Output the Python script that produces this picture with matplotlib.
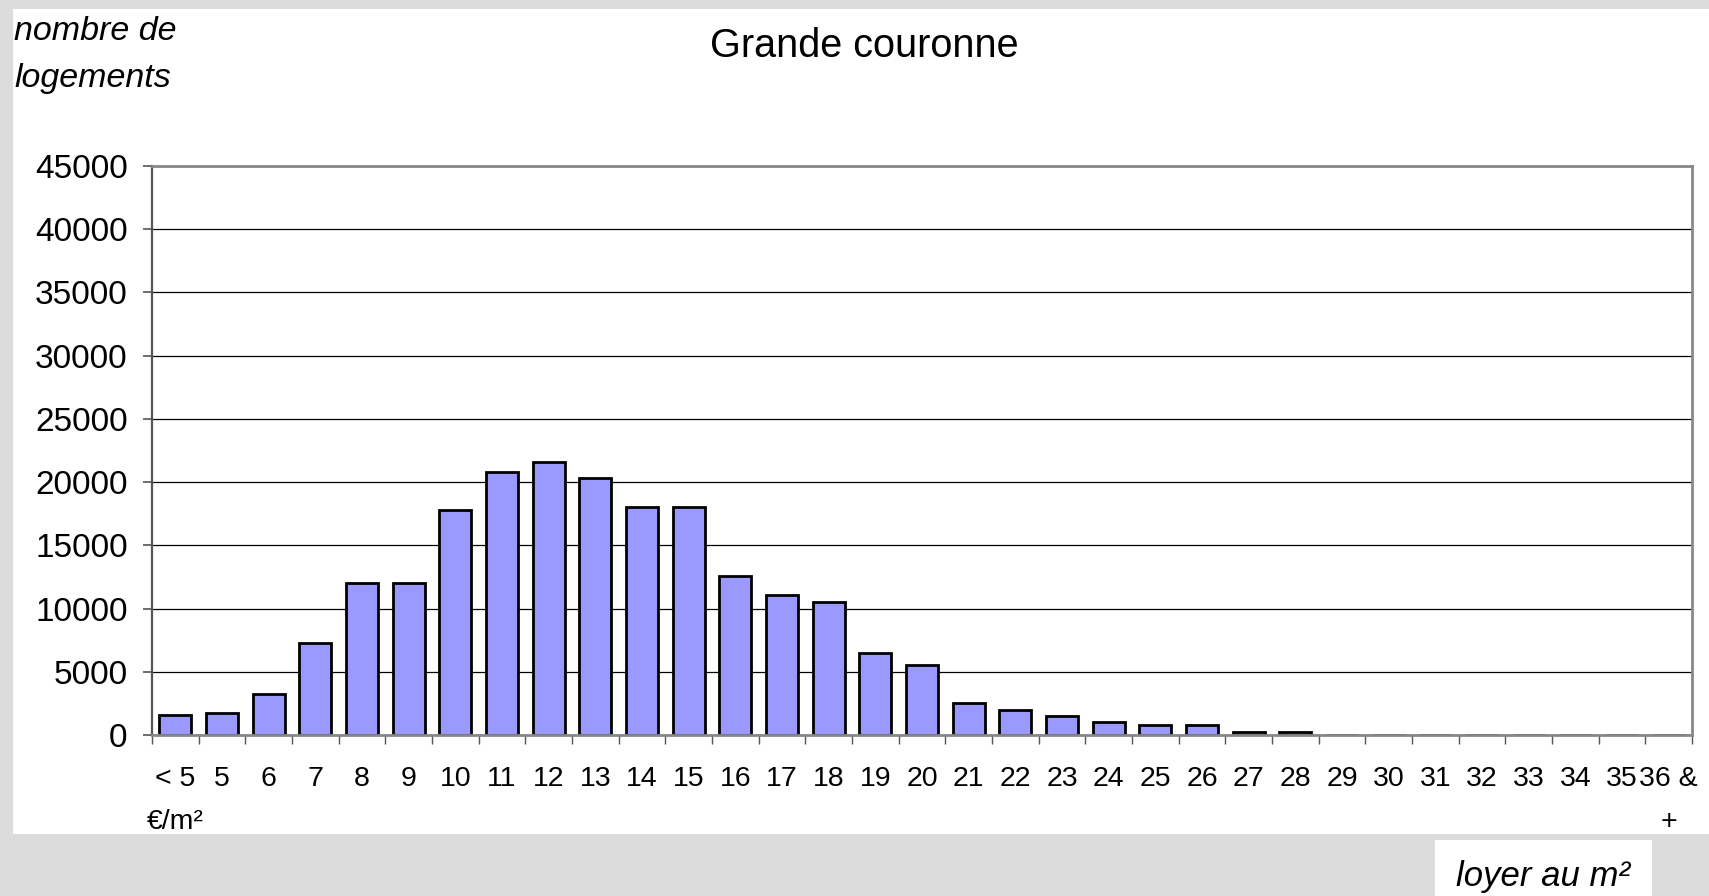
import matplotlib
matplotlib.use("Agg")
import matplotlib.pyplot as plt
from matplotlib.patches import Rectangle
from matplotlib.ticker import FixedLocator, MultipleLocator

# ---- data ----
categories = ["< 5\n€/m²", "5", "6", "7", "8", "9", "10", "11", "12", "13", "14",
              "15", "16", "17", "18", "19", "20", "21", "22", "23", "24", "25",
              "26", "27", "28", "29", "30", "31", "32", "33", "34", "35", "36 &\n+"]
values = [1550, 1750, 3250, 7250, 12000, 12000, 17800, 20800, 21600, 20300, 18000,
          18000, 12550, 11050, 10550, 6500, 5500, 2500, 2000, 1500, 1000, 800,
          800, 250, 250, 0, 0, 0, 0, 0, 0, 0, 0]
title = "Grande couronne"
y_title_lines = ["nombre de", "logements"]
x_title = "loyer au m²"
y_max = 45000
y_step = 5000

plt.rcParams['font.family'] = ['Liberation Sans', 'DejaVu Sans']

W, H = 1709, 896
fig = plt.figure(figsize=(W / 100, H / 100), dpi=100, facecolor="#dcdcdc")

# white chart area
fig.patches.append(Rectangle((13 / W, 1 - 834 / H), 1 - 13 / W, (834 - 9) / H,
                             transform=fig.transFigure, facecolor="white",
                             edgecolor="none", zorder=-2))
# white box behind x title
fig.patches.append(Rectangle((1435 / W, 0), (1652 - 1435) / W, (896 - 840) / H,
                             transform=fig.transFigure, facecolor="white",
                             edgecolor="none", zorder=-2))

left, right, top, bottom = 152, 1692, 166, 735
ax = fig.add_axes([left / W, 1 - bottom / H, (right - left) / W, (bottom - top) / H])
ax.set_facecolor("white")
ax.set_zorder(1)

x = list(range(len(categories)))
ax.bar(x, values, width=0.68, color="#9999ff", edgecolor="black", linewidth=2.0, zorder=3)

ax.set_xlim(-0.5, len(categories) - 0.5)
ax.set_ylim(0, y_max)
ax.yaxis.set_major_locator(MultipleLocator(y_step))
ax.yaxis.grid(True, color="black", linewidth=0.9, zorder=1)
ax.set_axisbelow(True)

ax.set_xticks(x)
ax.set_xticklabels(categories, fontsize=20.5, linespacing=1.85)
ax.xaxis.set_minor_locator(FixedLocator([i - 0.5 for i in range(len(categories) + 1)]))
ax.tick_params(axis="x", which="major", length=0, pad=22)
ax.tick_params(axis="x", which="minor", length=6.5, width=1.0, color="#555555", direction="out")
ax.tick_params(axis="y", which="major", length=6.5, width=1.2, color="#555555", labelsize=24, pad=11)

for side in ["top", "right", "bottom"]:
    ax.spines[side].set_color("#888888")
    ax.spines[side].set_linewidth(2.0)
    ax.spines[side].set_zorder(4)
ax.spines["left"].set_color("#555555")
ax.spines["left"].set_linewidth(1.6)

fig.text(864 / W, 1 - 57 / H, title, fontsize=28.5, ha="center", va="baseline")
fig.text(14 / W, 1 - 40 / H, y_title_lines[0], fontsize=24.5, style="italic", ha="left", va="baseline")
fig.text(14 / W, 1 - 87 / H, y_title_lines[1], fontsize=24.5, style="italic", ha="left", va="baseline")
fig.text(1543 / W, 1 - 886 / H, x_title, fontsize=25, style="italic", ha="center",
         va="baseline")

fig.savefig("out.png", dpi=100, facecolor=fig.get_facecolor())
